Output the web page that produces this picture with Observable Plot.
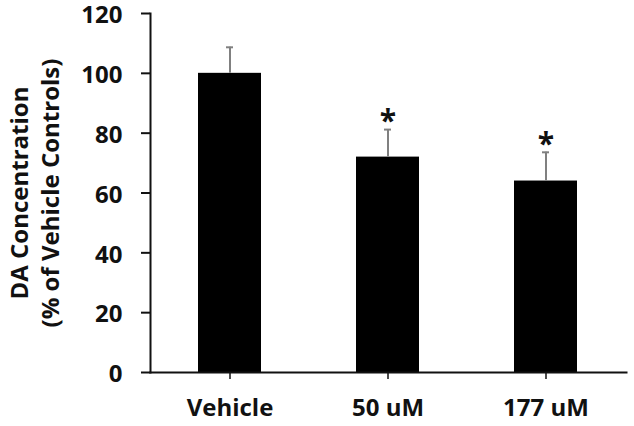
<!DOCTYPE html>
<html>
<head>
<meta charset="utf-8">
<script src="https://cdn.jsdelivr.net/npm/d3@7"></script>
<script src="https://cdn.jsdelivr.net/npm/@observablehq/plot@0.6"></script>
<style>
  html, body { margin: 0; padding: 0; background: #fff; }
  #chart { width: 634px; height: 426px; }
</style>
</head>
<body>
<div id="chart"></div>
<script>
const categories = ["Vehicle", "50 uM", "177 uM"];
const means = [100, 72, 64];
const errors = [8.7, 9.2, 9.6];
const sig = ["", "*", "*"];
const yTicks = [0, 20, 40, 60, 80, 100, 120];
const yLabel = "DA Concentration\n(% of Vehicle Controls)";

const data = categories.map((c, i) => ({
  cat: c, mean: means[i], top: means[i] + errors[i], sig: sig[i]
}));

const font = "'Open Sans', Lato, sans-serif";
const ink = "#111";

const chart = Plot.plot({
  width: 634,
  height: 426,
  marginTop: 13,
  marginBottom: 54,
  marginLeft: 150,
  marginRight: 8,
  style: { fontFamily: font, fontWeight: "bold", fontSize: "24px", color: ink, background: "#fff", overflow: "visible" },
  x: { domain: categories, paddingInner: 0.6, paddingOuter: 0.3, label: null, axis: null },
  y: { domain: [0, 120], label: null, axis: null },
  marks: [
    Plot.barY(data, { x: "cat", y: "mean", fill: "#000" }),
    Plot.ruleX(data, { x: "cat", y1: "mean", y2: "top", stroke: "#808080", strokeWidth: 2 }),
    Plot.tickY(data, { x: "cat", y: "top", stroke: "#808080", strokeWidth: 2, insetLeft: 28, insetRight: 28 }),
    Plot.text(data.filter(d => d.sig), { x: "cat", y: "top", text: "sig", dy: -8, fontSize: 30, fontWeight: "bold", fill: ink }),
    Plot.frame({ anchor: "left", stroke: ink, strokeWidth: 2 }),
    Plot.frame({ anchor: "bottom", stroke: ink, strokeWidth: 2 }),
    Plot.axisY({ ticks: yTicks, tickSize: 9, tickFormat: () => "", stroke: ink, strokeWidth: 2, label: null }),
    Plot.axisY({ ticks: yTicks, tickSize: 0, tickPadding: 28, dy: 2, fontSize: 24, fontWeight: "bold", fill: ink, label: null }),
    Plot.axisX({ tickSize: 7, tickPadding: 19, fontSize: 24, fontWeight: "bold", stroke: ink, strokeWidth: 1.5, fill: ink, label: null }),
    Plot.text([yLabel], { frameAnchor: "left", dx: -117, rotate: -90, lineHeight: 1.3, fontSize: 24, fontWeight: "bold", fill: ink, textAnchor: "middle" })
  ]
});

document.getElementById("chart").appendChild(chart);
</script>
</body>
</html>
